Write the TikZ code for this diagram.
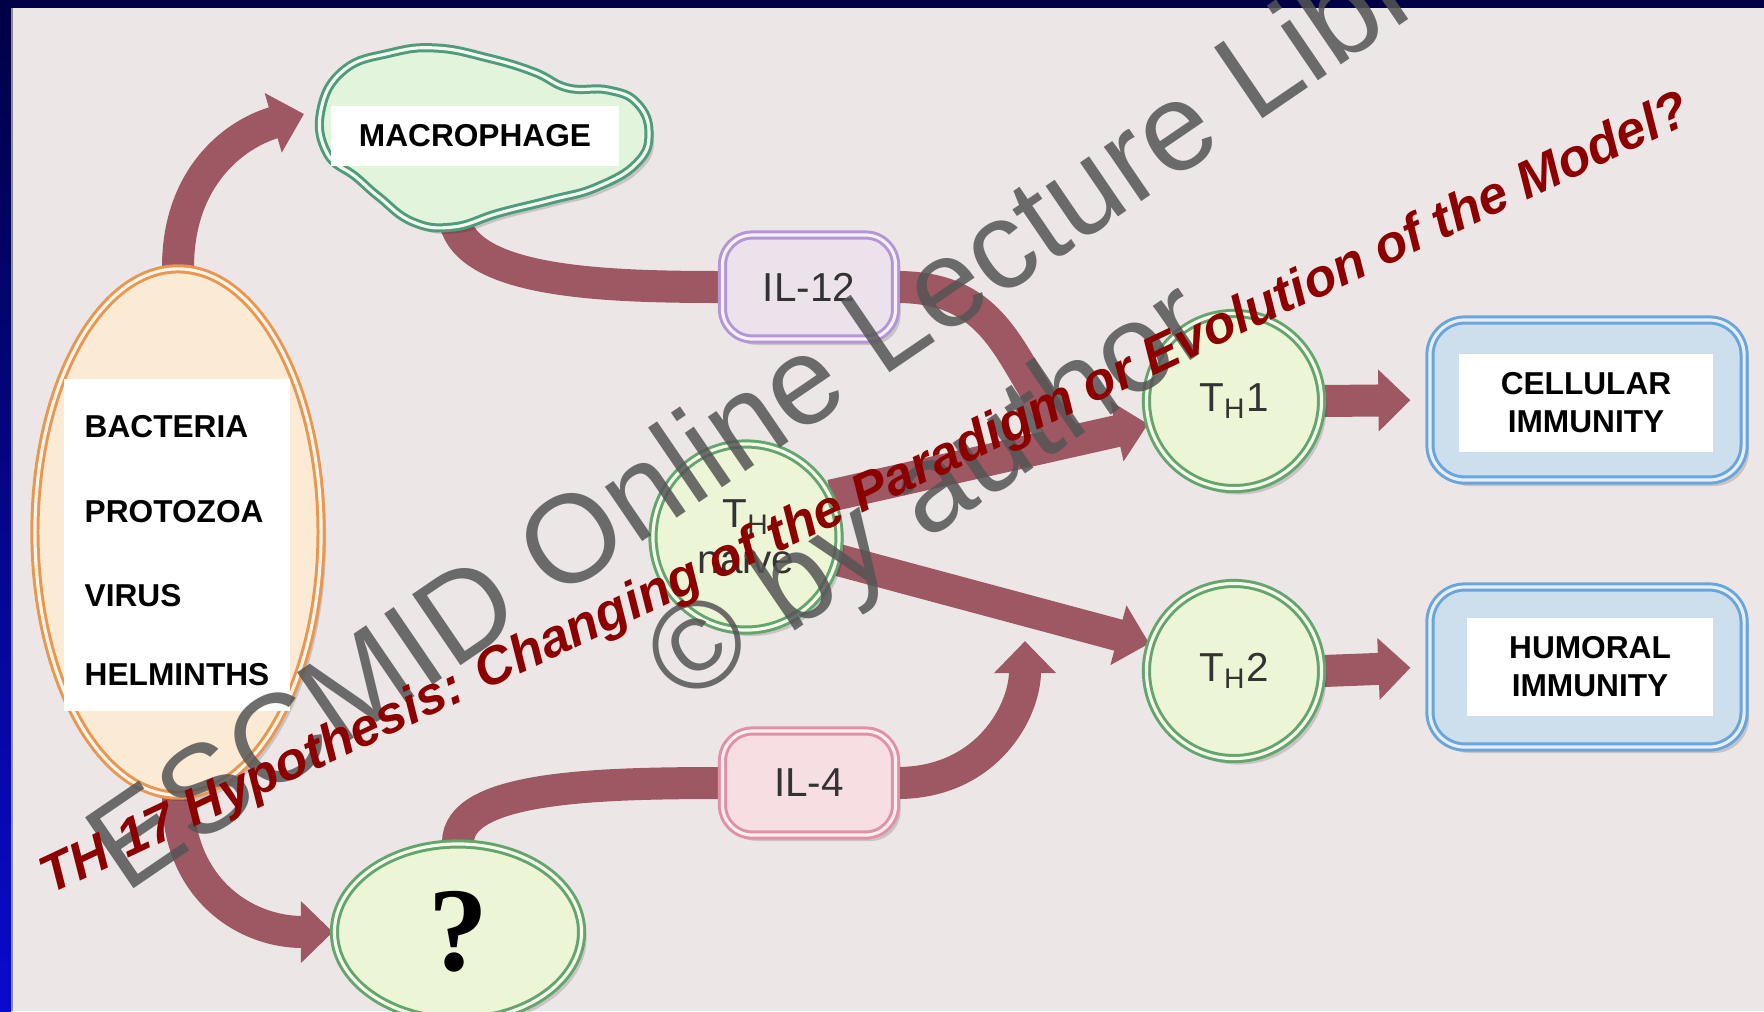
\documentclass[tikz,border=0pt]{standalone}
\usepackage{fontspec}
\setmainfont{Liberation Sans}
\newfontfamily\qfont{Liberation Serif}
\usetikzlibrary{arrows.meta, shapes.geometric, shadows}

\definecolor{paper}{RGB}{236,231,230}
\definecolor{navy}{RGB}{0,0,70}
\definecolor{edgeblue}{RGB}{10,10,205}
\definecolor{flowred}{RGB}{158,88,100}
\definecolor{cellgreen}{RGB}{100,165,110}
\definecolor{cellfill}{RGB}{236,246,214}
\definecolor{macroline}{RGB}{80,155,125}
\definecolor{macrofill}{RGB}{226,244,220}
\definecolor{bugline}{RGB}{232,150,80}
\definecolor{bugfill}{RGB}{251,234,212}
\definecolor{ilpurple}{RGB}{180,150,215}
\definecolor{ilpurplefill}{RGB}{236,226,236}
\definecolor{ilpink}{RGB}{225,145,165}
\definecolor{ilpinkfill}{RGB}{246,222,226}
\definecolor{immline}{RGB}{105,165,220}
\definecolor{immfill}{RGB}{205,222,236}
\definecolor{markred}{RGB}{140,0,0}
\definecolor{markgrey}{RGB}{85,85,85}

\pgfdeclarelayer{back}
\pgfsetlayers{back,main}

\begin{document}
\begin{tikzpicture}
  [
    x=0.01cm, y=-0.01cm,
    outline/.style={line width=0.85pt, double distance=0.9pt},
    cell/.style={circle, outline, draw=cellgreen, double=cellfill!50!white, fill=cellfill,
      minimum size=1.75cm, inner sep=0pt, align=center, text=black!80,
      font=\fontsize{11.5}{13}\selectfont},
    cyto/.style={rounded corners=0.3cm, outline, minimum width=1.73cm, minimum height=1.04cm,
      text=black!80, font=\fontsize{11.5}{13}\selectfont},
    immune/.style={rounded corners=0.35cm, outline, draw=immline, double=immfill!50!white,
      fill=immfill, minimum width=3.14cm, minimum height=1.6cm},
    tag/.style={fill=white, inner sep=0pt, align=center, font=\fontsize{9}{10.8}\selectfont\bfseries},
    bug/.style={anchor=west, inner sep=0pt, font=\fontsize{9}{10.8}\selectfont\bfseries},
    flow/.style={draw=flowred, line width=0.32cm},
    flowtip/.style={flow, -{Triangle[width=0.6cm, length=0.32cm]}},
    softshadow/.style={drop shadow={shadow xshift=0.05cm, shadow yshift=-0.06cm,
      opacity=0.15, fill=black}}
  ]
  \useasboundingbox (0,0) rectangle (1764,1011);
  % page
  \begin{pgfonlayer}{back}
    \fill[navy] (0,0) rectangle (1764,1011);
    \shade[top color=navy, bottom color=edgeblue] (0,8) rectangle (11,1011);
    \fill[black!45] (11,8) rectangle (13,1011);
    \fill[paper] (13,8) rectangle (1764,1011);
  \end{pgfonlayer}

  % pathogens
  \node[ellipse, outline, draw=bugline, double=bugfill!50!white, fill=bugfill,
    minimum width=2.86cm, minimum height=5.26cm, softshadow] (bugs) at (178,532) {};
  \node[fill=white, minimum width=2.25cm, minimum height=3.32cm] (buglist) at (177,545) {};
  \foreach \name/\y in {BACTERIA/427, PROTOZOA/512, VIRUS/596, HELMINTHS/675} {
    \node[bug] (\name) at (84,\y) {\name};
  }

  % macrophage
  \draw[outline, draw=macroline, double=macrofill!50!white, fill=macrofill, softshadow]
    plot[smooth cycle, tension=0.75] coordinates {(321,110) (344,70) (390,53) (436,48)
      (488,58) (534,72) (568,88) (608,90) (637,103) (649,133) (637,163) (597,187)
      (551,200) (499,213) (453,227) (413,222) (379,197) (356,177) (327,153)};
  \node[tag, minimum width=2.87cm, minimum height=0.59cm] (macro) at (475,136) {MACROPHAGE};
  \coordinate (macroin) at (304,114);
  \coordinate (macroout) at (455,222);

  % cytokines
  \node[cyto, draw=ilpurple, double=ilpurplefill!50!white, fill=ilpurplefill, softshadow]
    (il12) at (809,287) {IL-12};
  \node[cyto, draw=ilpink, double=ilpinkfill!50!white, fill=ilpinkfill, softshadow]
    (il4) at (809,783) {IL-4};

  % T helper cells
  \node[cell, minimum size=1.86cm, softshadow] (thnaive) at (746,537) {T\textsubscript{H}\\naive};
  \node[cell, softshadow] (th1) at (1234,401) {T\textsubscript{H}1};
  \node[cell, softshadow] (th2) at (1234,671) {T\textsubscript{H}2};
  \node[cell, ellipse, minimum width=2.47cm, minimum height=1.76cm, text=black,
    font=\qfont\bfseries\fontsize{34}{34}\selectfont, softshadow] (unknown) at (458,932) {?};
  \coordinate (join1) at (1070,441);
  \coordinate (join2) at (1025,641);

  % immunity
  \node[immune, softshadow] (cellular) at (1587,400) {};
  \node[tag, minimum width=2.53cm, minimum height=0.97cm] (cellulartag) at (1586,403) {CELLULAR\\IMMUNITY};
  \node[immune, softshadow] (humoral) at (1587,667) {};
  \node[tag, minimum width=2.45cm, minimum height=0.97cm] (humoraltag) at (1590,667) {HUMORAL\\IMMUNITY};

  % arrows
  \begin{pgfonlayer}{back}
    \draw[flowtip] (bugs.north) .. controls +(0,-90) and +(-70,20) .. (macroin);
    \draw[flow] (macroout) .. controls +(15,60) and +(-120,0) .. (il12.west);
    \draw[flow] (il12.east) .. controls +(110,0) and +(-60,-70) .. (join1);
    \draw[flowtip] (thnaive.26) -- (th1.195);
    \draw[flowtip] (thnaive.-14) -- (th2.162);
    \draw[flow] (unknown.north) .. controls +(0,-55) and +(-130,0) .. (il4.west);
    \draw[flowtip] (il4.east) .. controls +(90,0) and +(0,70) .. (join2);
    \draw[flowtip] (bugs.south) .. controls +(0,90) and +(-90,0) .. (unknown.west);
    \draw[flowtip, shorten >=0.18cm] (th1.east) -- (cellular.west);
    \draw[flowtip, shorten >=0.18cm] (th2.east) -- (humoral.west);
  \end{pgfonlayer}

  % watermarks
  \begin{scope}
    \clip (0,0) rectangle (1764,1011);
    \node[anchor=base west, inner sep=0pt, rotate=34.3, text=markgrey, text opacity=0.85,
      font=\fontsize{35.5}{40}\selectfont] (escmid) at (125,895) {ESCMID Online Lecture Library};
    \node[anchor=base west, inner sep=0pt, rotate=34.3, text=markgrey, text opacity=0.85,
      font=\fontsize{35.5}{40}\selectfont] (owner) at (683,707) {© by author};
    \node[anchor=base west, inner sep=0pt, rotate=25.2, text=markred,
      font=\fontsize{15}{17}\selectfont\bfseries\itshape] (title) at (50,895)
      {TH 17 Hypothesis: Changing of the Paradigm or Evolution of the Model?};
  \end{scope}
\end{tikzpicture}
\end{document}
